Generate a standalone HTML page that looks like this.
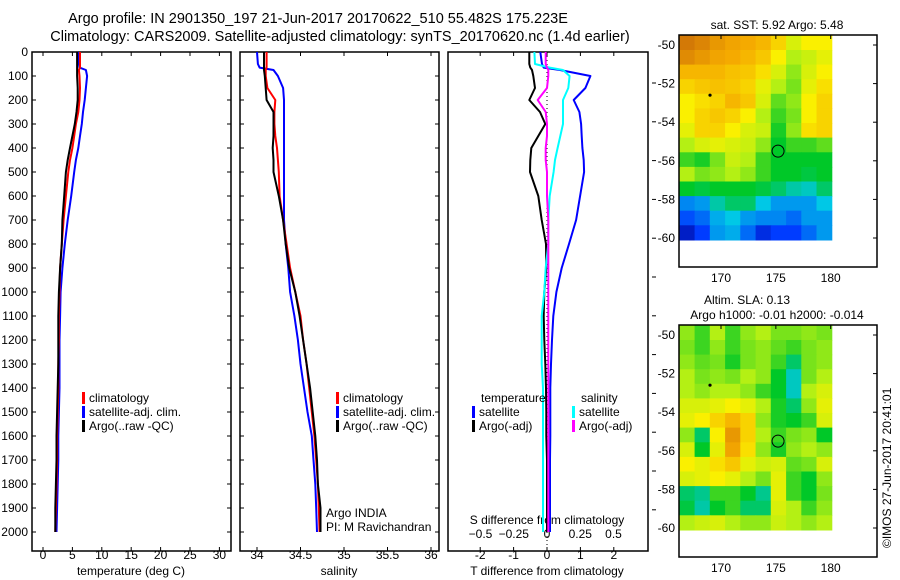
<!DOCTYPE html>
<html><head><meta charset="utf-8"><style>
body{margin:0;background:#fff}
svg{display:block;font-family:"Liberation Sans",sans-serif;font-size:12px}
</style></head><body>
<svg id="c" width="900" height="580" viewBox="0 0 900 580">
<text x="318" y="23" text-anchor="middle" style="font-size:14.5px">Argo profile: IN 2901350_197 21-Jun-2017 20170622_510 55.482S 175.223E</text>
<text x="340" y="41" text-anchor="middle" style="font-size:14.5px">Climatology: CARS2009. Satellite-adjusted climatology: synTS_20170620.nc (1.4d earlier)</text>
</svg>
<script>
const depths=[0,50,65,75,100,150,200,250,300,350,400,450,500,600,700,800,900,1000,1100,1200,1300,1400,1500,1600,1700,1800,1900,2000];
const tempArgo=[5.8,5.8,5.8,5.8,5.8,5.9,5.9,5.7,5.4,5.0,4.6,4.2,3.9,3.6,3.3,3.2,2.9,2.7,2.6,2.6,2.6,2.5,2.4,2.3,2.3,2.2,2.1,2.1];
const tempClim=[6.3,6.3,6.3,6.1,6.2,6.3,6.2,6.0,5.6,5.3,5.0,4.6,4.3,3.9,3.5,3.2,2.9,2.8,2.7,2.7,2.6,2.6,2.5,2.4,2.4,2.3,2.2,2.1];
const tempSat=[6.1,6.1,6.2,7.3,7.5,7.3,7.1,6.8,6.6,6.3,6.0,5.6,5.3,4.8,4.2,3.7,3.3,3.0,2.9,2.8,2.8,2.8,2.7,2.6,2.6,2.5,2.4,2.3];
const salArgo=[34.08,34.08,34.08,34.08,34.09,34.10,34.11,34.19,34.19,34.19,34.18,34.19,34.19,34.25,34.30,34.33,34.37,34.44,34.49,34.53,34.57,34.61,34.64,34.67,34.69,34.70,34.73,34.73];
const salClim=[34.11,34.11,34.11,34.10,34.10,34.12,34.21,34.20,34.20,34.21,34.23,34.24,34.25,34.26,34.30,34.34,34.38,34.44,34.50,34.53,34.57,34.60,34.63,34.66,34.68,34.70,34.71,34.72];
const salSat=[34.00,34.01,34.03,34.19,34.24,34.30,34.31,34.31,34.31,34.31,34.31,34.31,34.31,34.31,34.31,34.33,34.36,34.38,34.43,34.47,34.50,34.54,34.58,34.63,34.65,34.67,34.68,34.69];
const dTsat=[-0.2,-0.15,-0.1,0.39,1.3,1.15,0.8,0.97,1.02,1.04,1.06,1.1,1.11,0.99,0.87,0.66,0.44,0.28,0.19,0.15,0.12,0.1,0.1,0.1,0.09,0.09,0.09,0.09];
const dTargo=[-0.53,-0.53,-0.5,-0.45,-0.41,-0.36,-0.53,-0.21,-0.05,-0.26,-0.47,-0.5,-0.51,-0.26,-0.16,-0.03,-0.02,-0.08,-0.1,-0.08,-0.05,-0.03,-0.02,-0.02,0,0,0,0];
const dSsat=[-0.095,-0.09,0.02,0.12,0.17,0.16,0.12,0.12,0.12,0.1,0.08,0.06,0.05,0.02,0.01,0.01,-0.01,-0.02,-0.04,-0.04,-0.04,-0.03,-0.03,-0.03,-0.03,-0.03,-0.03,-0.03];
const dSargo=[-0.01,-0.01,0,0.01,0.01,0,-0.07,-0.01,0,0,-0.01,-0.01,0,0,0.01,0.01,0.01,0.01,0.01,0.01,0.01,0.01,0.01,0.01,0.01,0.01,0.01,0.01];
const depthTicks=[0,100,200,300,400,500,600,700,800,900,1000,1100,1200,1300,1400,1500,1600,1700,1800,1900,2000];
const tTicks=[0,5,10,15,20,25,30];
const sTicks=[34,34.5,35,35.5,36];
const dtTicks=[-2,-1,0,1,2];
const dsTicks=[-0.5,-0.25,0,0.25,0.5];
const dsTickLabels=["−0.5","−0.25","0","0.25","0.5"];
const latTicks=[-50,-52,-54,-56,-58,-60];
const lonTicks=[170,175,180];
const mapLon0=166.2,mapLon1=180.1,mapLat0=-49.5,mapLat1=-60.1;
const sstGrid=[
[.95,.93,.9,.88,.87,.85,.8,.7,.75,.75],
[.92,.9,.88,.87,.85,.82,.75,.65,.68,.72],
[.85,.85,.85,.83,.82,.78,.7,.62,.7,.75],
[.8,.82,.83,.82,.8,.72,.65,.6,.72,.78],
[.75,.78,.8,.85,.82,.7,.58,.62,.75,.8],
[.75,.8,.82,.8,.75,.65,.55,.6,.75,.8],
[.72,.8,.8,.75,.7,.68,.52,.62,.78,.8],
[.65,.7,.72,.7,.68,.62,.5,.55,.55,.58],
[.55,.52,.6,.68,.65,.55,.5,.5,.5,.5],
[.65,.6,.62,.65,.62,.55,.5,.5,.48,.5],
[.5,.48,.5,.5,.5,.48,.45,.4,.38,.45],
[.28,.3,.4,.45,.45,.35,.3,.3,.3,.35],
[.22,.25,.32,.35,.3,.28,.28,.25,.3,.3],
[.1,.2,.3,.32,.25,.15,.2,.2,.25,.3]];
const slaGrid=[
[.62,.55,.65,.55,.62,.65,.6,.6,.62,.6],
[.6,.55,.62,.55,.6,.62,.58,.55,.6,.62],
[.62,.58,.6,.52,.6,.62,.55,.45,.6,.62],
[.65,.6,.62,.6,.65,.62,.5,.38,.6,.65],
[.65,.62,.65,.65,.62,.55,.5,.38,.65,.7],
[.7,.7,.72,.75,.72,.65,.52,.45,.62,.72],
[.72,.75,.8,.85,.8,.62,.52,.5,.55,.7],
[.62,.45,.75,.9,.8,.65,.55,.6,.62,.5],
[.7,.5,.72,.88,.78,.62,.52,.62,.65,.62],
[.75,.72,.78,.82,.72,.68,.7,.58,.6,.7],
[.7,.72,.75,.72,.65,.6,.72,.55,.5,.62],
[.45,.42,.55,.55,.5,.42,.72,.55,.5,.6],
[.48,.4,.5,.55,.45,.45,.7,.65,.55,.62],
[.65,.68,.7,.65,.62,.62,.68,.65,.62,.65]];
const floatLon=175.2,floatLat=-55.5;

const svg=document.getElementById('c');
const NS='http://www.w3.org/2000/svg';
function mk(tag,attrs,txt){const e=document.createElementNS(NS,tag);for(const k in attrs)e.setAttribute(k,attrs[k]);if(txt!==undefined)e.textContent=txt;svg.appendChild(e);return e;}
const yD=d=>52+d*0.24;
const xT=v=>43+v*5.88;
const xS=v=>257+(v-34)*87;
const xDT=v=>547+v*33.4;
const xDS=v=>547+v*133;

function frame(x0,x1,y0,y1,name){
  const r=mk('rect',{x:x0,y:y0,width:x1-x0,height:y1-y0,fill:'none',stroke:'#000','stroke-width':1.5});
  
  
}
function profLine(xs,xf,color,w,name){
  let d='';
  for(let i=0;i<depths.length;i++){
    const x=xf(xs[i]).toFixed(1),y=yD(depths[i]).toFixed(1);
    d+=(i===0?'M':' L')+x+' '+y;
  }
  const p=mk('path',{d:d,fill:'none',stroke:color,'stroke-width':w,'stroke-linejoin':'round'});
  
  
}
frame(32,231,52,551,'temperature-panel');
frame(240,439,52,551,'salinity-panel');
frame(448,648,52,551,'difference-panel');
depthTicks.forEach(d=>{
  const y=yD(d);
  const t=mk('text',{x:28,y:y+4,'text-anchor':'end'},String(d));
  
  
  [[32,36],[227,231],[240,244],[435,439]].forEach(p=>{const l=mk('line',{x1:p[0],x2:p[1],y1:y,y2:y,stroke:'#000'});});
});
for(let y=83;y<540;y+=38.8){const l=mk('line',{x1:652,x2:656,y1:y,y2:y,stroke:'#000'});}
function xticks(vals,labels,xf,ly,name,top){
  vals.forEach((v,i)=>{
    const x=xf(v);
    const l=mk('line',{x1:x,x2:x,y1:547,y2:551,stroke:'#000'});
    if(top){const l2=mk('line',{x1:x,x2:x,y1:52,y2:56,stroke:'#000'});}
    const t=mk('text',{x:x,y:ly,'text-anchor':'middle'},labels[i]);
  });
}
xticks(tTicks,tTicks.map(String),xT,559,'temperature-axis',true);
xticks(sTicks,sTicks.map(String),xS,559,'salinity-axis',true);
xticks(dtTicks,dtTicks.map(String),xDT,559,'t-diff-axis',true);
dsTicks.forEach((v,i)=>{const t=mk('text',{x:xDS(v),y:538,'text-anchor':'middle'},dsTickLabels[i]);});
[['temperature (deg C)',131,'temperature-axis-title'],['salinity',339,'salinity-axis-title'],['T difference from climatology',547,'t-diff-axis-title']].forEach(a=>{const t=mk('text',{x:a[1],y:575,'text-anchor':'middle'},a[0]);});
{const t=mk('text',{x:547,y:524,'text-anchor':'middle'},'S difference from climatology');}
{const l=mk('line',{x1:547,x2:547,y1:52,y2:551,stroke:'#000','stroke-dasharray':'1 3'});}
profLine(tempSat,xT,'#0000ff',2,'temp-satellite-line');
profLine(tempClim,xT,'#ff0000',2,'temp-climatology-line');
profLine(tempArgo,xT,'#000',2,'temp-argo-line');
profLine(salSat,xS,'#0000ff',2,'sal-satellite-line');
profLine(salClim,xS,'#ff0000',2,'sal-climatology-line');
profLine(salArgo,xS,'#000',2,'sal-argo-line');
profLine(dTsat,xDT,'#0000ff',2,'t-diff-satellite-line');
profLine(dTargo,xDT,'#000',2,'t-diff-argo-line');
profLine(dSsat,xDS,'#00ffff',2,'s-diff-satellite-line');
profLine(dSargo,xDS,'#ff00ff',2,'s-diff-argo-line');
function legend(x,y,color,label,name){
  const r=mk('rect',{x:x,y:y-10,width:3,height:12,fill:color});
  const t=mk('text',{x:x+7,y:y},label);
}
[[82,'temp'],[336,'sal']].forEach(p=>{
  legend(p[0],402,'#ff0000','climatology',p[1]+'-legend-climatology');
  legend(p[0],416,'#0000ff','satellite-adj. clim.',p[1]+'-legend-satellite');
  legend(p[0],430,'#000','Argo(..raw -QC)',p[1]+'-legend-argo');
});
{const t=mk('text',{x:481,y:402},'temperature');
 const t2=mk('text',{x:581,y:402},'salinity');}
legend(472,416,'#0000ff','satellite','diff-legend-t-satellite');
legend(472,430,'#000','Argo(-adj)','diff-legend-t-argo');
legend(572,416,'#00ffff','satellite','diff-legend-s-satellite');
legend(572,430,'#ff00ff','Argo(-adj)','diff-legend-s-argo');
{const t=mk('text',{x:326,y:517},'Argo INDIA');
 const t2=mk('text',{x:326,y:531},'PI: M Ravichandran');}
const stops=[[0,[0,0,140]],[0.2,[0,60,255]],[0.35,[0,200,230]],[0.5,[0,200,40]],[0.65,[180,240,20]],[0.75,[250,240,0]],[0.87,[245,170,0]],[1,[190,90,10]]];
function cmap(v){for(let i=1;i<stops.length;i++){if(v<=stops[i][0]){const a=stops[i-1],b=stops[i],f=(v-a[0])/(b[0]-a[0]);return 'rgb('+a[1].map((c,k)=>Math.round(c+(b[1][k]-c)*f)).join(',')+')';}}return 'rgb(190,90,10)';}
function drawMap(top,grid,title,name){
  const fx0=679,fx1=877,fy0=top,fy1=top+232;
  const xL=lon=>721+(lon-170)*10.97;
  const yL=lat=>top+10+(-50-lat)*19.3;
  const rows=grid.length,cols=grid[0].length;
  const dx=(mapLon1-mapLon0)/cols,dy=(mapLat0-mapLat1)/rows;
  grid.forEach((row,r)=>row.forEach((v,c)=>{
    const x=xL(mapLon0+c*dx),y=yL(mapLat0-r*dy);
    const cell=mk('rect',{x:x.toFixed(1),y:y.toFixed(1),width:(xL(mapLon0+(c+1)*dx)-x+0.6).toFixed(1),height:(yL(mapLat0-(r+1)*dy)-y+0.6).toFixed(1),fill:cmap(v)});
    
    
  }));
  frame(fx0,fx1,fy0,fy1,name+'-frame');
  latTicks.forEach(lat=>{const y=yL(lat);
    const t=mk('text',{x:675,y:y+4,'text-anchor':'end'},String(lat));
    const l=mk('line',{x1:fx1-4,x2:fx1,y1:y,y2:y,stroke:'#000'});});
  lonTicks.forEach(lon=>{const x=xL(lon);
    const t=mk('text',{x:x,y:fy1+15,'text-anchor':'middle'},String(lon));
    const l=mk('line',{x1:x,x2:x,y1:fy0,y2:fy0+4,stroke:'#000'});});
  const c=mk('circle',{cx:xL(floatLon),cy:yL(floatLat),r:6,fill:'none',stroke:'#000'});
  const d=mk('circle',{cx:xL(169),cy:yL(-52.6),r:1.6,fill:'#000'});
  title.forEach((s,i)=>{const t=mk('text',{x:777-(i===0&&title.length>1?30:0),y:top-(title.length-i-1)*15-6,'text-anchor':'middle'},s);});
}
drawMap(35,sstGrid,['sat. SST: 5.92 Argo: 5.48'],'sst-map');
drawMap(325,slaGrid,['Altim. SLA: 0.13','Argo h1000: -0.01 h2000: -0.014'],'sla-map');
{const t=mk('text',{x:0,y:0,transform:'translate(891,548) rotate(-90)'},'©IMOS 27-Jun-2017 20:41:01');}
</script>
</body></html>
